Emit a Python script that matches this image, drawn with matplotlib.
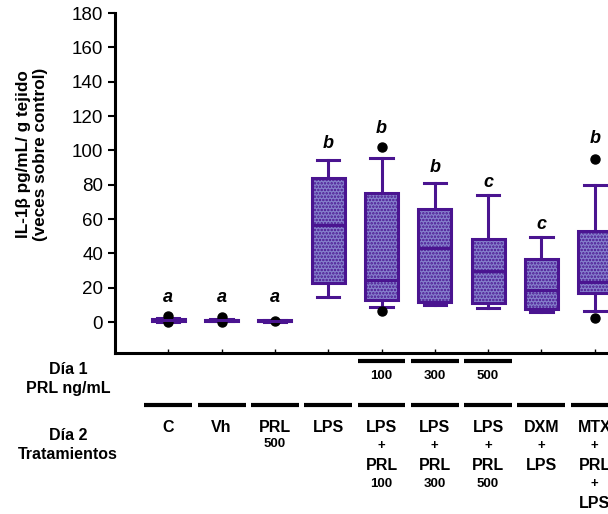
import matplotlib.pyplot as plt
import matplotlib.transforms as mtransforms
import numpy as np

plt.rcParams['font.family'] = ['Liberation Sans', 'DejaVu Sans']
plt.rcParams['hatch.linewidth'] = 1.2

# box statistics (veces sobre control)
groups = ["C", "Vh", "PRL500", "LPS", "LPS+PRL100", "LPS+PRL300",
          "LPS+PRL500", "DXM+LPS", "MTX+PRL+LPS"]
whislo = [0.3, 0.4, 0.2, 14.4, 8.9, 9.9, 8.0, 5.6, 6.6]
q1 = [0.6, 0.6, 0.4, 22.9, 12.8, 11.8, 10.9, 7.4, 17.1]
med = [1.0, 1.0, 0.7, 56.5, 24.5, 43.3, 29.7, 18.6, 23.5]
q3 = [1.6, 1.5, 1.0, 83.7, 74.9, 65.6, 48.1, 36.5, 53.2]
whishi = [2.2, 2.0, 1.2, 94.3, 95.3, 81.1, 74.0, 49.3, 79.8]
fliers = [[3.8, 0.0], [2.8, 0.2], [0.5], [], [102.0, 6.6], [], [], [],
          [94.7, 2.1]]

letters = ["a", "a", "a", "b", "b", "b", "c", "c", "b"]
letter_y = [14.5, 14.5, 14.5, 104, 113, 90, 81.5, 57, 107]

dia1_labels = ["", "", "", "", "100", "300", "500", "", ""]
# rows of the "Día 2" label under each box
dia2_rows = [["C"], ["Vh"], ["PRL", "500"], ["LPS"],
             ["LPS", "+", "PRL", "100"], ["LPS", "+", "PRL", "300"],
             ["LPS", "+", "PRL", "500"], ["DXM", "+", "LPS"],
             ["MTX", "+", "PRL", "+", "LPS"]]

edge = '#4a1490'
face = '#8580cc'

fig = plt.figure(figsize=(6.08, 5.14), dpi=100)
ax = fig.add_axes([115 / 608, 161 / 514, 533 / 608, 340 / 514])

stats = []
for i in range(len(groups)):
    stats.append(dict(label=groups[i], whislo=whislo[i], q1=q1[i], med=med[i],
                      q3=q3[i], whishi=whishi[i], fliers=fliers[i]))

pos = np.arange(1, len(groups) + 1)
bp = ax.bxp(stats, positions=pos, widths=0.62, patch_artist=True,
            capwidths=0.42,
            boxprops=dict(facecolor=face, edgecolor=edge, linewidth=2.2,
                          hatch='.....'),
            medianprops=dict(color=edge, linewidth=2.2),
            whiskerprops=dict(color=edge, linewidth=2.2),
            capprops=dict(color=edge, linewidth=2.2),
            flierprops=dict(marker='o', markerfacecolor='black',
                            markeredgecolor='black', markersize=6.5))

for i in range(len(groups)):
    ax.text(pos[i], letter_y[i], letters[i], ha='center', va='center',
            fontsize=13, fontweight='bold', fontstyle='italic')

ax.set_xlim(0, 10)
ax.set_ylim(-18, 180)
ax.set_yticks(np.arange(0, 181, 20))
ax.set_xticks(pos)
ax.set_xticklabels([])
ax.tick_params(axis='y', labelsize=13.5, width=1.5, length=5)
ax.tick_params(axis='x', direction='in', length=3, width=1)
for s in ['top', 'right']:
    ax.spines[s].set_visible(False)
for s in ['left', 'bottom']:
    ax.spines[s].set_linewidth(2.2)

ax.set_ylabel("IL-1β pg/mL/ g tejido\n(veces sobre control)",
              fontsize=12.3, fontweight='bold', linespacing=1.2)
ax.yaxis.set_label_coords(-0.125, 0.585)

tr = mtransforms.blended_transform_factory(ax.transData, fig.transFigure)


def fy(py):
    return 1 - py / 514


fig.text(68 / 608, fy(379), "Día 1\nPRL ng/mL", ha='center', va='center',
         fontsize=11.5, fontweight='bold', linespacing=1.35)
fig.text(68 / 608, fy(445), "Día 2\nTratamientos", ha='center', va='center',
         fontsize=11.5, fontweight='bold', linespacing=1.35)

row_y = [427, 446, 465, 484, 503]
for i in range(len(groups)):
    x = pos[i]
    if dia1_labels[i]:
        ax.plot([x - 0.45, x + 0.45], [fy(361)] * 2, transform=tr,
                color='black', lw=3, clip_on=False, solid_capstyle='butt')
        ax.text(x, fy(376), dia1_labels[i], transform=tr, ha='center',
                va='center', fontsize=9.5, fontweight='bold')
    ax.plot([x - 0.45, x + 0.45], [fy(405)] * 2, transform=tr,
            color='black', lw=3, clip_on=False, solid_capstyle='butt')
    for k, t in enumerate(dia2_rows[i]):
        small = t == "+" or t.isdigit()
        yy = row_y[k]
        if t.isdigit() and k == 1:
            yy = 444
        ax.text(x, fy(yy), t, transform=tr, ha='center', va='center',
                fontsize=9.5 if small else 11.5, fontweight='bold')

fig.savefig("out.png", dpi=100)
